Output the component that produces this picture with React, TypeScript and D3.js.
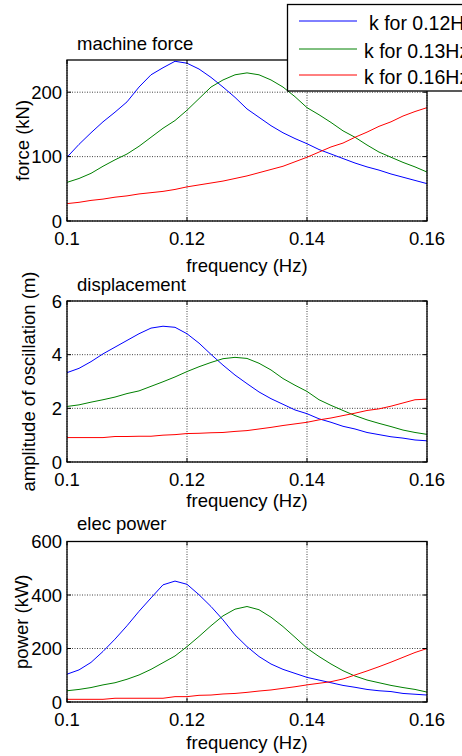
import React from "react";
import * as d3 from "d3";

const freq = [0.100,0.102,0.104,0.106,0.108,0.110,0.112,0.114,0.116,0.118,0.120,0.122,0.124,0.126,0.128,0.130,0.132,0.134,0.136,0.138,0.140,0.142,0.144,0.146,0.148,0.150,0.152,0.154,0.156,0.158,0.160];

const forceK012 = [99,119,137,154,169,185,208,227,238,248,245,236,223,208,192,174,161,148,137,128,120,111,104,97,90,84,79,73,68,63,58];
const forceK013 = [60,66,74,85,95,104,116,130,144,156,172,190,208,219,227,230,227,219,208,193,176,165,153,140,130,118,107,99,91,84,76];
const forceK016 = [27,29,32,34,37,39,42,44,46,49,53,56,59,62,66,70,75,80,85,92,99,107,115,121,130,138,147,154,163,170,176];

const dispK012 = [3.33,3.49,3.74,4.03,4.28,4.53,4.78,4.99,5.06,5.02,4.78,4.43,4.01,3.61,3.24,2.92,2.61,2.36,2.15,1.94,1.80,1.61,1.48,1.33,1.23,1.10,1.02,0.94,0.89,0.82,0.79];
const dispK013 = [2.07,2.13,2.23,2.32,2.42,2.55,2.65,2.82,2.99,3.17,3.37,3.55,3.71,3.85,3.90,3.86,3.68,3.43,3.11,2.86,2.63,2.32,2.11,1.92,1.73,1.57,1.44,1.32,1.19,1.10,1.03];
const dispK016 = [0.91,0.91,0.91,0.91,0.95,0.95,0.96,0.96,1.00,1.02,1.06,1.07,1.09,1.10,1.14,1.17,1.23,1.29,1.36,1.42,1.48,1.57,1.64,1.73,1.82,1.92,1.98,2.08,2.20,2.32,2.34];

const powerK012 = [104,120,148,189,235,285,339,389,438,452,440,401,357,307,251,207,170,142,122,107,92,82,72,62,55,47,42,39,32,29,26];
const powerK013 = [42,47,54,64,72,85,101,122,147,172,207,245,285,322,347,357,345,317,282,242,201,170,142,117,97,82,72,62,54,47,37];
const powerK016 = [10,10,10,10,14,14,14,14,14,20,20,25,26,30,32,36,41,45,51,57,64,70,76,86,101,116,132,149,167,185,200];

const xTicks = [0.1, 0.12, 0.14, 0.16];
const xTickLabels = ["0.1", "0.12", "0.14", "0.16"];
const legendLabels = ["k for 0.12Hz", "k for 0.13Hz", "k for 0.16Hz"];
const seriesColors = ["#0000ff", "#008000", "#ff0000"];

const FONT = "'Liberation Sans', Arial, sans-serif";
const FS = 18.5;

type PanelProps = {
  top: number;
  bottom: number;
  yMax: number;
  yTicks: number[];
  title: string;
  titleY: number;
  yLabel: string;
  yLabelX: number;
  xLabelY: number;
  series: number[][];
};

const X0 = 67;
const X1 = 427;
const TICK = 4;

function Panel(p: PanelProps) {
  const x = d3.scaleLinear().domain([0.1, 0.16]).range([X0, X1]);
  const y = d3.scaleLinear().domain([0, p.yMax]).range([p.bottom, p.top]);
  const line = d3
    .line<number>()
    .x((_, i) => x(freq[i]))
    .y((d) => y(d));
  const midY = (p.top + p.bottom) / 2;
  const clipId = "clip" + Math.round(p.top);
  return (
    <g>
      <defs>
        <clipPath id={clipId}>
          <rect x={X0} y={p.top} width={X1 - X0} height={p.bottom - p.top} />
        </clipPath>
      </defs>
      <rect x={X0} y={p.top} width={X1 - X0} height={p.bottom - p.top} fill="#fff" />
      {xTicks.map((t) => (
        <line key={"gx" + t} x1={x(t)} x2={x(t)} y1={p.top} y2={p.bottom} stroke="#444" strokeWidth={1} strokeDasharray="1 1.5" />
      ))}
      {p.yTicks.map((t) => (
        <line key={"gy" + t} x1={X0} x2={X1} y1={y(t)} y2={y(t)} stroke="#444" strokeWidth={1} strokeDasharray="1 1.5" />
      ))}
      <g clipPath={`url(#${clipId})`}>
        {p.series.map((s, i) => (
          <path key={i} d={line(s) || ""} fill="none" stroke={seriesColors[i]} strokeWidth={1} />
        ))}
      </g>
      <rect x={X0} y={p.top} width={X1 - X0} height={p.bottom - p.top} fill="none" stroke="#000" strokeWidth={1.3} />
      {xTicks.map((t) => (
        <g key={"tx" + t}>
          <line x1={x(t)} x2={x(t)} y1={p.bottom} y2={p.bottom - TICK} stroke="#000" />
          <line x1={x(t)} x2={x(t)} y1={p.top} y2={p.top + TICK} stroke="#000" />
        </g>
      ))}
      {p.yTicks.map((t) => (
        <g key={"ty" + t}>
          <line x1={X0} x2={X0 + TICK} y1={y(t)} y2={y(t)} stroke="#000" />
          <line x1={X1} x2={X1 - TICK} y1={y(t)} y2={y(t)} stroke="#000" />
        </g>
      ))}
      {xTicks.map((t, i) => (
        <text key={"lx" + t} x={x(t)} y={p.bottom + 24} textAnchor="middle" fontSize={FS} fontFamily={FONT} fill="#000">
          {xTickLabels[i]}
        </text>
      ))}
      {p.yTicks.map((t) => (
        <text key={"ly" + t} x={62} y={y(t) + 6.5} textAnchor="end" fontSize={FS} fontFamily={FONT} fill="#000">
          {String(t)}
        </text>
      ))}
      <text x={(X0 + X1) / 2} y={p.xLabelY} textAnchor="middle" fontSize={FS} fontFamily={FONT} fill="#000">
        frequency (Hz)
      </text>
      <text
        transform={`translate(${p.yLabelX},${midY}) rotate(-90)`}
        textAnchor="middle"
        fontSize={FS}
        fontFamily={FONT}
        fill="#000"
      >
        {p.yLabel}
      </text>
      <text x={77} y={p.titleY} fontSize={FS} fontFamily={FONT} fill="#000">
        {p.title}
      </text>
    </g>
  );
}

function Legend() {
  const rows = [21, 49, 75];
  const textX = [369, 364, 364];
  return (
    <g>
      <rect x={287.5} y={4.5} width={200} height={86.5} fill="#fff" stroke="#000" strokeWidth={1.3} />
      {legendLabels.map((l, i) => (
        <g key={l}>
          <line x1={299} x2={357} y1={rows[i]} y2={rows[i]} stroke={seriesColors[i]} strokeWidth={1} />
          <text x={textX[i]} y={rows[i] + 9} fontSize={19.5} fontFamily={FONT} fill="#000">
            {l}
          </text>
        </g>
      ))}
    </g>
  );
}

export default function App() {
  return (
    <svg
      width={462}
      height={756}
      viewBox="0 0 462 756"
      style={{ position: "absolute", left: 0, top: 0, background: "#fff" }}
    >
      <rect x={0} y={0} width={462} height={756} fill="#fff" />
      <Panel
        top={60}
        bottom={221}
        yMax={250}
        yTicks={[0, 100, 200]}
        title="machine force"
        titleY={50}
        yLabel="force (kN)"
        yLabelX={29}
        xLabelY={272}
        series={[forceK012, forceK013, forceK016]}
      />
      <Panel
        top={301}
        bottom={462}
        yMax={6}
        yTicks={[0, 2, 4, 6]}
        title="displacement"
        titleY={291}
        yLabel="amplitude of oscillation (m)"
        yLabelX={35}
        xLabelY={507}
        series={[dispK012, dispK013, dispK016]}
      />
      <Panel
        top={541.5}
        bottom={702}
        yMax={600}
        yTicks={[0, 200, 400, 600]}
        title="elec power"
        titleY={530}
        yLabel="power (kW)"
        yLabelX={28}
        xLabelY={749}
        series={[powerK012, powerK013, powerK016]}
      />
      <Legend />
    </svg>
  );
}
